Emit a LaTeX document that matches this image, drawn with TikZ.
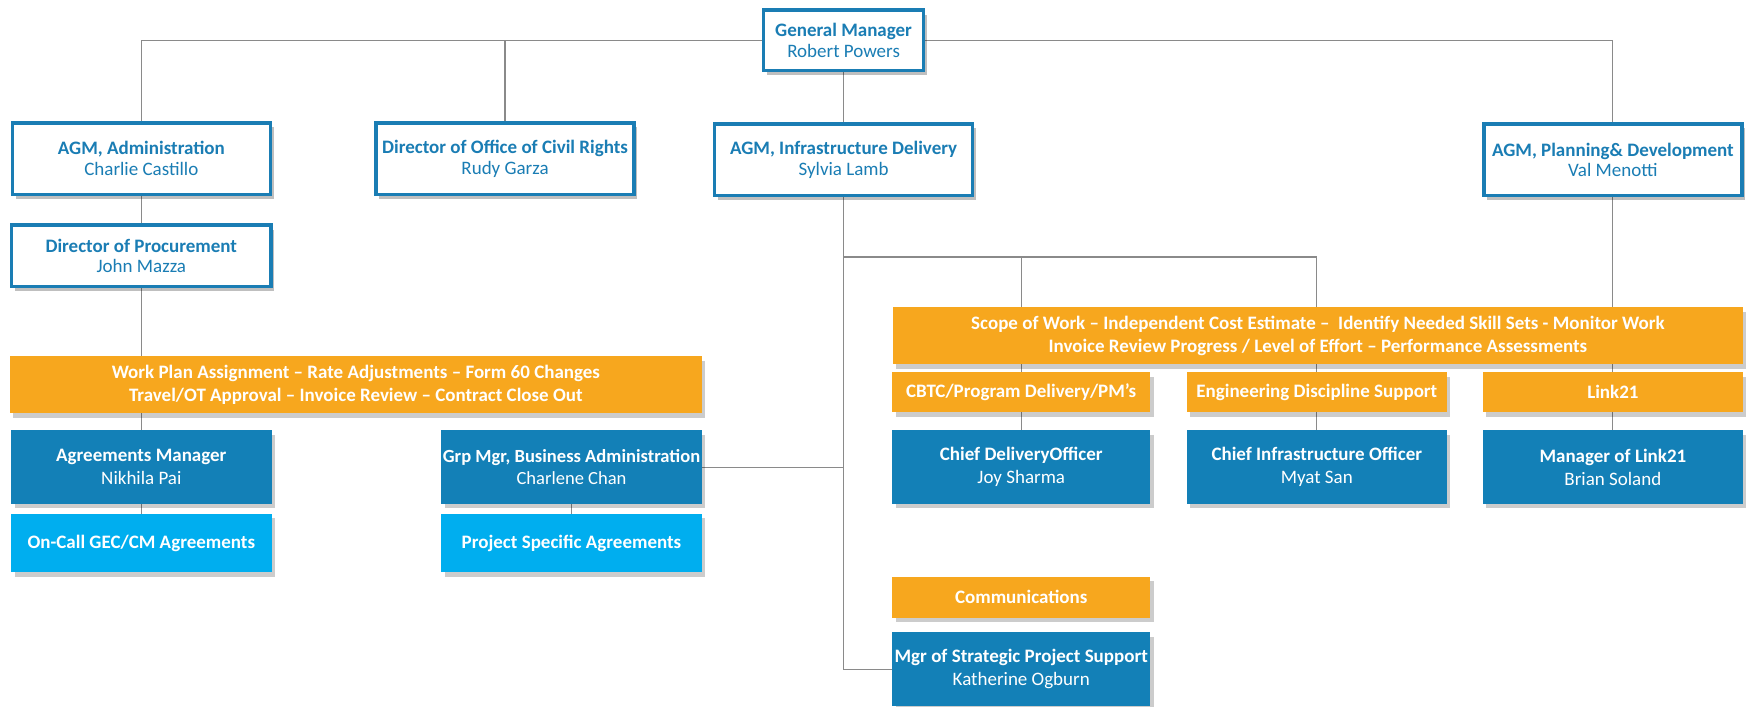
\documentclass[tikz,border=0pt]{standalone}
\usepackage{fontspec}
\setmainfont{Carlito}
\usetikzlibrary{shadows, backgrounds}

\definecolor{rim}{HTML}{1A7DB4}
\definecolor{deep}{HTML}{1380B7}
\definecolor{sky}{HTML}{00AEEF}
\definecolor{amber}{HTML}{F7A71E}
\definecolor{wire}{HTML}{8A8A8A}

\begin{document}
\begin{tikzpicture}[x=1pt, y=-1pt, font=\fontsize{17}{18.5}\selectfont, every node/.style={align=center, inner sep=0pt}]
				\tikzstyle{leadbox}=[draw=rim, line width=3pt, fill=white, text=rim, minimum width=231pt, minimum height=64pt, drop shadow={shadow xshift=3pt, shadow yshift=-4pt, fill=black, opacity=0.25}]
				\tikzstyle{taskbox}=[fill=amber, text=white, font=\fontsize{17}{20}\selectfont\bfseries, minimum height=51pt, drop shadow={shadow xshift=3pt, shadow yshift=-4pt, fill=black, opacity=0.2}]
				\tikzstyle{postbox}=[fill=deep, text=white, minimum width=231pt, minimum height=66pt, font=\fontsize{17}{20.5}\selectfont, drop shadow={shadow xshift=3pt, shadow yshift=-4pt, fill=black, opacity=0.2}]
				\tikzstyle{unitbox}=[fill=sky, text=white, font=\fontsize{17}{20}\selectfont\bfseries, minimum width=233pt, minimum height=52pt, drop shadow={shadow xshift=3pt, shadow yshift=-4pt, fill=black, opacity=0.2}]
				\tikzstyle{hvline}=[to path={-| (\tikztotarget)}]
				\tikzstyle{vhline}=[to path={|- (\tikztotarget)}]
				\useasboundingbox (0, 0) rectangle (1568, 632);
				
				% top rows
				\node[leadbox, minimum width=143pt, minimum height=54pt] at (755, 36) (GM) {\textbf{General Manager}\\Robert Powers};
				\node[leadbox] at (126.5, 142) (AA) {\textbf{AGM, Administration}\\Charlie Castillo};
				\node[leadbox] at (452, 142) (CR) {\textbf{Director of Office of Civil Rights}\\Rudy Garza};
				\node[leadbox] at (755, 143) (AI) {\textbf{AGM, Infrastructure Delivery}\\Sylvia Lamb};
				\node[leadbox] at (1443.5, 143) (AP) {\textbf{AGM, Planning\& Development}\\Val Menotti};
				\node[leadbox, minimum width=232pt, minimum height=55pt] at (126.5, 229) (DP) {\textbf{Director of Procurement}\\John Mazza};
				
				% left branch
				\node[taskbox, minimum width=619pt] at (318.5, 344.5) (WP) {Work Plan Assignment -- Rate Adjustments -- Form 60 Changes\\Travel/OT Approval -- Invoice Review -- Contract Close Out};
				\node[postbox, minimum width=233pt] at (126.5, 418) (AM) {\textbf{Agreements Manager}\\Nikhila Pai};
				\node[postbox, minimum width=233pt, font=\fontsize{16.6}{20.5}\selectfont] at (511.5, 418) (BA) {\textbf{Grp Mgr, Business Administration}\\Charlene Chan};
				\node[unitbox] at (126.5, 486) (OC) {On-Call GEC/CM Agreements};
				\node[unitbox] at (511.5, 486) (PS) {Project Specific Agreements};
				
				% right branch
				\node[taskbox, minimum width=761pt] at (1179.5, 300.5) (SW) {Scope of Work -- Independent Cost Estimate --~ Identify Needed Skill Sets - Monitor Work\\Invoice Review Progress / Level of Effort -- Performance Assessments};
				\node[taskbox, minimum width=231pt, minimum height=36pt] at (914, 351) (CB) {CBTC/Program Delivery/PM’s};
				\node[taskbox, minimum width=233pt, minimum height=36pt] at (1178.5, 351) (ED) {Engineering Discipline Support};
				\node[taskbox, minimum width=233pt, minimum height=36pt] at (1443.5, 351) (LK) {Link21};
				\node[postbox] at (914, 418) (CD) {\textbf{Chief DeliveryOfficer}\\Joy Sharma};
				\node[postbox, minimum width=233pt] at (1178.5, 418) (CI) {\textbf{Chief Infrastructure Officer}\\Myat San};
				\node[postbox, minimum width=233pt] at (1443.5, 418) (ML) {\textbf{Manager of Link21}\\Brian Soland};
				\node[taskbox, minimum width=231pt, minimum height=37pt] at (914, 534.5) (CM) {Communications};
				\node[postbox] at (914, 599) (SP) {\textbf{Mgr of Strategic Project Support}\\Katherine Ogburn};
				\coordinate (split) at (755, 230);
				
				\begin{scope}[on background layer]
				\path[draw=wire, line width=1pt]
                (GM) edge[hvline] (AA)
                (GM) edge[hvline] (AP)
                (CR) edge (CR |- GM)
                (GM) edge (AI)
                (AA) edge (DP)
                (DP) edge (AM)
                (AM) edge (OC)
                (BA) edge (PS)
                (BA) edge (BA -| AI)
                (AI) edge[vhline] (SP)
                (split) edge[hvline] (CI)
                (split -| CD) edge (CD)
                (AP) edge (ML);
				\end{scope}
		  \end{tikzpicture}
\end{document}
